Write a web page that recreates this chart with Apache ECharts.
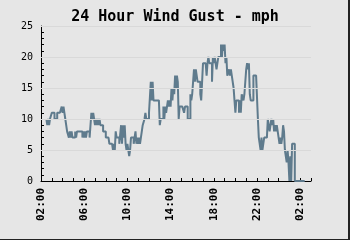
<!DOCTYPE html>
<html>
<head>
<meta charset="utf-8">
<script src="https://cdn.jsdelivr.net/npm/echarts@6/dist/echarts.min.js"></script>
<style>
html,body{margin:0;padding:0;background:#e6e6e6;}
#c{width:350px;height:240px;}
</style>
</head>
<body>
<div id="c"></div>
<script>
// Data: wind gust (mph), 5-minute samples starting 02:30
var titleText = '24 Hour Wind Gust - mph';
var startHour = 0.5;      // hours after 02:00 of first sample
var stepMinutes = 5;
var gust = [
  10,9,10,9, 10,10, 11,11,11, 10,10,10, 11,11,11,11,11, 12,11,12, 11,10, 9, 8,8,
  7,8,7, 8,7, 7,7, 8,7,8, 8,8,8,8,8, 7,8,7,8,7,8, 8,8, 7,7,
  11,10,11, 10,9,10,9,10,9,10, 9,9,9, 8,8,8, 7,7,7,7, 6,6,6,6, 5,6,5, 8,7, 7,7, 6,6,
  9,6,9,7,9, 6,5,6,5, 4,5, 7,7, 7,6,7, 8,6, 7,6,7,6,7, 8,9,9, 10,11,10, 10,10, 11,11,
  16,13,16,13, 13,13,13,13,13,13, 9,10, 10,10, 12,10,12, 11,12, 13,12,13, 12,
  15,13,15,14, 17,15,17,16, 10, 12,12,12,12,12, 11, 12,12,12, 10,10,10, 14,13, 14,14,
  18,16,18,17, 16,16,16, 14, 13,13, 19,19,19,19, 17,19, 20,19, 19,19, 16,20, 19,20,19,
  18,19, 20,20,20, 22,20,22,21,22, 19,20, 17,17, 18,17,18, 17,17, 15,13, 11,13, 13,13,
  11,13,11, 14,14, 13,14, 16,18, 19,18,19, 14,13, 13,13, 17,17,17,17,17, 10, 7,7,
  5,7,5,6, 7,7,7,7, 10,10, 8,9, 10,9, 10,8, 9,8,9, 8,8, 6,7,6,7, 9,8, 5,5, 3,5,3,
  0,4,0, 6,6,6, 0,0,0,0,0,0,0,0,0,0,0,0
];
var xLabelHours = [0,4,8,12,16,20,24];
var yLabelValues = [0,5,10,15,20,25];
var yGridValues = [5,10,15,20,25];

function hourLabel(v){
  var h = (2 + Math.round(v)) % 24;
  return (h < 10 ? '0' : '') + h + ':00';
}
var seriesData = gust.map(function(v,i){ return [startHour + i*stepMinutes/60, v]; });

var chart = echarts.init(document.getElementById('c'), null, {renderer:'canvas'});
chart.setOption({
  animation:false,
  backgroundColor:'#e6e6e6',
  title:{text:titleText, left:'center', top:5,
    textStyle:{fontFamily:'DejaVu Sans Mono', fontWeight:'bold', fontSize:15, color:'#000'}},
  grid:{left:41, right:39, top:26, bottom:59},
  xAxis:{
    type:'value', min:0, max:25, interval:1,
    axisLine:{show:true, lineStyle:{color:'#000', width:1}},
    axisTick:{show:true, inside:true, length:3, lineStyle:{color:'#000'}},
    axisLabel:{show:true, customValues:xLabelHours, rotate:90, margin:7,
      fontFamily:'DejaVu Sans Mono', fontWeight:'bold', fontSize:11, color:'#000',
      formatter:hourLabel},
    splitLine:{show:false}
  },
  yAxis:{
    type:'value', min:0, max:25, interval:1,
    axisLine:{show:true, lineStyle:{color:'#000', width:1}},
    axisTick:{show:true, inside:true, length:3, lineStyle:{color:'#000'}},
    axisLabel:{show:true, customValues:yLabelValues, margin:8,
      fontFamily:'DejaVu Sans Mono', fontSize:10, color:'#000'},
    splitLine:{show:false}
  },
  graphic:[
    {type:'rect', shape:{x:348, y:0, width:2, height:240}, style:{fill:'#222'}, silent:true},
    {type:'rect', shape:{x:0, y:239, width:350, height:1}, style:{fill:'#222'}, silent:true}
  ],
  series:[{
    type:'line', data:[], z:1, silent:true, symbol:'none',
    markLine:{
      silent:true, symbol:['none','none'], label:{show:false},
      lineStyle:{color:'#d9d9d9', width:1, type:'solid'},
      data: yGridValues.map(function(v){ return {yAxis:v}; })
    }
  },{
    type:'line', z:3,
    data:seriesData, step:'end', showSymbol:false, symbol:'none',
    lineStyle:{color:'#5f7b8d', width:2},
    silent:true
  }]
});
</script>
</body>
</html>
